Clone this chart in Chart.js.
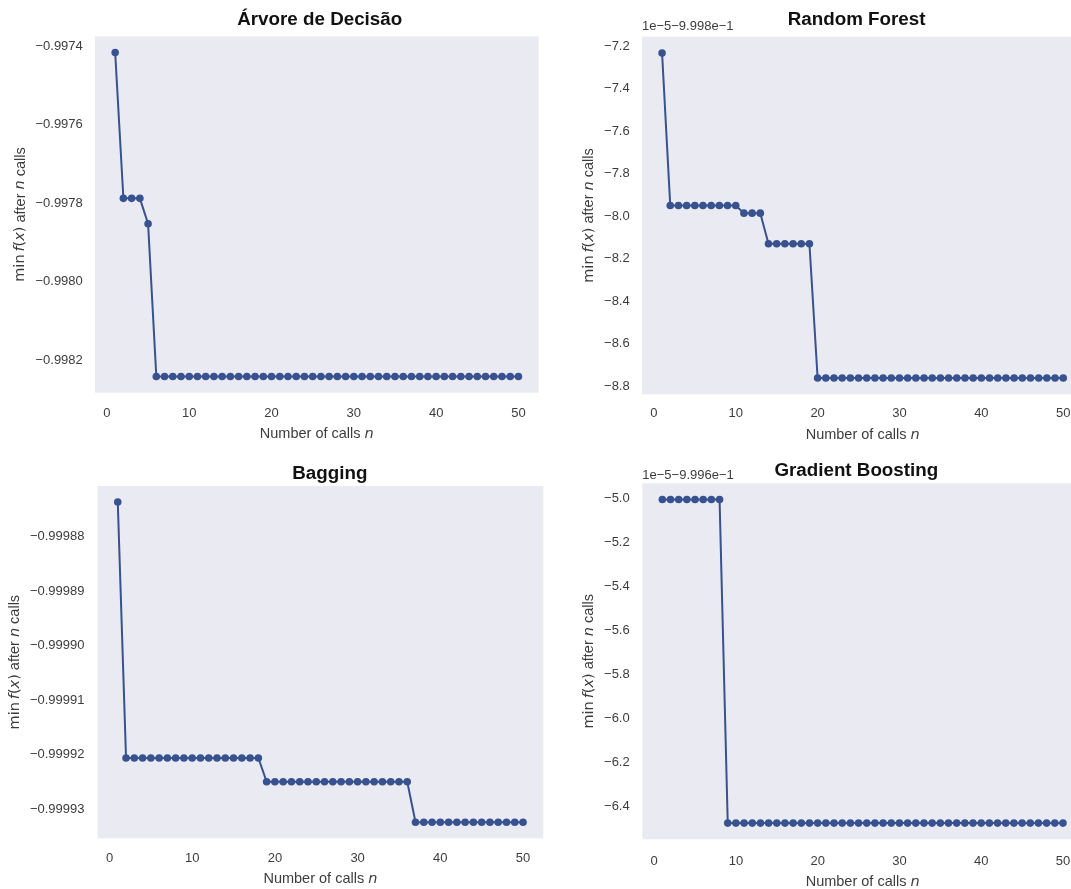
<!DOCTYPE html>
<html>
<head>
<meta charset="utf-8">
<script src="https://cdn.jsdelivr.net/npm/chart.js@4/dist/chart.umd.min.js"></script>
<style>
    html, body { margin: 0; padding: 0; background: #ffffff; overflow: hidden; }
    body { width: 1071px; height: 889px; position: relative; }
    canvas { position: absolute; }
</style>
</head>
<body>
<canvas id="arvore"></canvas>
<canvas id="forest"></canvas>
<canvas id="bagging"></canvas>
<canvas id="boosting"></canvas>
<script>
        const calls = [1, 2, 3, 4, 5, 6, 7, 8, 9, 10,
            11, 12, 13, 14, 15, 16, 17, 18, 19, 20,
            21, 22, 23, 24, 25, 26, 27, 28, 29, 30,
            31, 32, 33, 34, 35, 36, 37, 38, 39, 40,
            41, 42, 43, 44, 45, 46, 47, 48, 49, 50];
        const xTicks = [0, 10, 20, 30, 40, 50];

        // best value found after n calls, per model
        const arvoreMin = [-0.9974152, -0.9977874, -0.9977874, -0.9977874, -0.9978522,
            -0.9982421, -0.9982421, -0.9982421, -0.9982421, -0.9982421,
            -0.9982421, -0.9982421, -0.9982421, -0.9982421, -0.9982421,
            -0.9982421, -0.9982421, -0.9982421, -0.9982421, -0.9982421,
            -0.9982421, -0.9982421, -0.9982421, -0.9982421, -0.9982421,
            -0.9982421, -0.9982421, -0.9982421, -0.9982421, -0.9982421,
            -0.9982421, -0.9982421, -0.9982421, -0.9982421, -0.9982421,
            -0.9982421, -0.9982421, -0.9982421, -0.9982421, -0.9982421,
            -0.9982421, -0.9982421, -0.9982421, -0.9982421, -0.9982421,
            -0.9982421, -0.9982421, -0.9982421, -0.9982421, -0.9982421];
        const arvoreTicks = [-0.9982, -0.9980, -0.9978, -0.9976, -0.9974];

        const forestMin = [-0.99987231, -0.99987949, -0.99987949, -0.99987949, -0.99987949,
            -0.99987949, -0.99987949, -0.99987949, -0.99987949, -0.99987949,
            -0.99987985, -0.99987985, -0.99987985, -0.99988129, -0.99988129,
            -0.99988129, -0.99988129, -0.99988129, -0.99988129, -0.99988761,
            -0.99988761, -0.99988761, -0.99988761, -0.99988761, -0.99988761,
            -0.99988761, -0.99988761, -0.99988761, -0.99988761, -0.99988761,
            -0.99988761, -0.99988761, -0.99988761, -0.99988761, -0.99988761,
            -0.99988761, -0.99988761, -0.99988761, -0.99988761, -0.99988761,
            -0.99988761, -0.99988761, -0.99988761, -0.99988761, -0.99988761,
            -0.99988761, -0.99988761, -0.99988761, -0.99988761, -0.99988761];
        // tick labels in units of 1e-5, shifted by -0.9998
        const forestTicks = [-8.8, -8.6, -8.4, -8.2, -8.0, -7.8, -7.6, -7.4, -7.2];

        const baggingMin = [-0.99987361, -0.99992061, -0.99992061, -0.99992061, -0.99992061,
            -0.99992061, -0.99992061, -0.99992061, -0.99992061, -0.99992061,
            -0.99992061, -0.99992061, -0.99992061, -0.99992061, -0.99992061,
            -0.99992061, -0.99992061, -0.99992061, -0.99992499, -0.99992499,
            -0.99992499, -0.99992499, -0.99992499, -0.99992499, -0.99992499,
            -0.99992499, -0.99992499, -0.99992499, -0.99992499, -0.99992499,
            -0.99992499, -0.99992499, -0.99992499, -0.99992499, -0.99992499,
            -0.99992499, -0.99993243, -0.99993243, -0.99993243, -0.99993243,
            -0.99993243, -0.99993243, -0.99993243, -0.99993243, -0.99993243,
            -0.99993243, -0.99993243, -0.99993243, -0.99993243, -0.99993243];
        const baggingTicks = [-0.99993, -0.99992, -0.99991, -0.99990, -0.99989, -0.99988];

        const boostingMin = [-0.99965005, -0.99965005, -0.99965005, -0.99965005, -0.99965005,
            -0.99965005, -0.99965005, -0.99965005, -0.99966474, -0.99966474,
            -0.99966474, -0.99966474, -0.99966474, -0.99966474, -0.99966474,
            -0.99966474, -0.99966474, -0.99966474, -0.99966474, -0.99966474,
            -0.99966474, -0.99966474, -0.99966474, -0.99966474, -0.99966474,
            -0.99966474, -0.99966474, -0.99966474, -0.99966474, -0.99966474,
            -0.99966474, -0.99966474, -0.99966474, -0.99966474, -0.99966474,
            -0.99966474, -0.99966474, -0.99966474, -0.99966474, -0.99966474,
            -0.99966474, -0.99966474, -0.99966474, -0.99966474, -0.99966474,
            -0.99966474, -0.99966474, -0.99966474, -0.99966474, -0.99966474];
        // tick labels in units of 1e-5, shifted by -0.9996
        const boostingTicks = [-6.4, -6.2, -6.0, -5.8, -5.6, -5.4, -5.2, -5.0];

        // axis labels, split into plain / math / math-italic runs
        const yLabel = [['min', 'math'], ['\u2009', 'math'], ['f', 'it'], ['(', 'math'], ['x', 'it'], [')', 'math'],
            [' after ', 'text'], ['n', 'it'], [' calls', 'text']];
        const xLabel = [['Number of calls ', 'text'], ['n', 'it']];

        const lineColor = '#38528f';
        const panelBg = '#eaeaf2';
        const textColor = '#3d3d3d';
        const fontFamily = "'Liberation Sans', Arial, sans-serif";
        const mathFamily = "'DejaVu Sans', sans-serif";
        const tickFont = { family: fontFamily, size: 13 };
        const labelSize = 14.5;

        // page layout of each subplot (pixels)
        const panels = [
            {
                id: 'arvore', title: 'Árvore de Decisão', values: arvoreMin, ticks: arvoreTicks, decimals: 4,
                canvas: { x: 0, y: 0, w: 545, h: 445 },
                area: { left: 95, right: 538.6, top: 36.3, bottom: 392.7 },
                titlePos: [319.7, 20.3], yTitleX: 20.7, yTickRight: 82.8, xTickY: 413.3, xTitleY: 434
            },
            {
                id: 'forest', title: 'Random Forest', values: forestMin, ticks: forestTicks, decimals: 1,
                offset: -0.9998, unit: 1e-5, offsetText: '1e\u22125\u22129.998e\u22121',
                canvas: { x: 545, y: 0, w: 560, h: 445 },
                area: { left: 642, right: 1083.3, top: 36.7, bottom: 394.3 },
                titlePos: [856.6, 20.3], offsetY: 26.7,
                yTitleX: 589.1, yTickRight: 629.7, xTickY: 413.3, xTitleY: 435
            },
            {
                id: 'bagging', title: 'Bagging', values: baggingMin, ticks: baggingTicks, decimals: 5,
                canvas: { x: 0, y: 445, w: 550, h: 444 },
                area: { left: 97.5, right: 543.3, top: 486, bottom: 838.3 },
                titlePos: [329.8, 474], yTitleX: 14.8, yTickRight: 84.5, xTickY: 858.3, xTitleY: 879
            },
            {
                id: 'boosting', title: 'Gradient Boosting', values: boostingMin, ticks: boostingTicks, decimals: 1,
                offset: -0.9996, unit: 1e-5, offsetText: '1e\u22125\u22129.996e\u22121',
                canvas: { x: 545, y: 445, w: 560, h: 450 },
                area: { left: 642.3, right: 1083, top: 483.3, bottom: 839.3 },
                titlePos: [856.3, 470.7], offsetY: 475,
                yTitleX: 589.1, yTickRight: 629.7, xTickY: 861.7, xTitleY: 882.3
            }
        ];

        // matplotlib-style 5% margins around the data
        function withMargins(values) {
            const lo = Math.min(...values);
            const hi = Math.max(...values);
            const m = (hi - lo) * 0.05;
            return [lo - m, hi + m];
        }

        function fmt(t, decimals) {
            return t.toFixed(decimals).replace('-', '\u2212');
        }

        function runFont(kind) {
            if (kind === 'it') return 'italic ' + labelSize + 'px ' + mathFamily;
            if (kind === 'math') return labelSize + 'px ' + mathFamily;
            return labelSize + 'px ' + fontFamily;
        }

        // centred label made of several font runs, optionally rotated for the y axis
        function drawLabel(ctx, runs, x, y, vertical) {
            ctx.save();
            ctx.translate(x, y);
            if (vertical) ctx.rotate(-Math.PI / 2);
            ctx.fillStyle = textColor;
            ctx.textBaseline = 'middle';
            ctx.textAlign = 'left';
            let total = 0;
            runs.forEach(r => { ctx.font = runFont(r[1]); total += ctx.measureText(r[0]).width; });
            let cx = -total / 2;
            runs.forEach(r => {
                ctx.font = runFont(r[1]);
                ctx.fillText(r[0], cx, 0);
                cx += ctx.measureText(r[0]).width;
            });
            ctx.restore();
        }

        const panelDecor = {
            id: 'panelDecor',
            beforeDraw(chart, args, opts) {
                const a = chart.chartArea;
                const ctx = chart.ctx;
                ctx.save();
                ctx.fillStyle = panelBg;
                ctx.fillRect(a.left, a.top, a.right - a.left, a.bottom - a.top);
                ctx.restore();
            },
            afterDraw(chart, args, opts) {
                const a = chart.chartArea;
                const ctx = chart.ctx;
                ctx.save();
                ctx.fillStyle = '#111111';
                ctx.font = 'bold 18.8px ' + fontFamily;
                ctx.textAlign = 'center';
                ctx.textBaseline = 'middle';
                ctx.fillText(opts.title, opts.titleX, opts.titleY);
                if (opts.offsetText) {
                    ctx.fillStyle = textColor;
                    ctx.font = '13px ' + fontFamily;
                    ctx.textAlign = 'left';
                    ctx.fillText(opts.offsetText, a.left, opts.offsetY);
                }
                ctx.restore();
                drawLabel(ctx, xLabel, (a.left + a.right) / 2, opts.xTitleY, false);
                drawLabel(ctx, yLabel, opts.yTitleX, (a.top + a.bottom) / 2, true);
            }
        };

        function buildPanel(p) {
            const el = document.getElementById(p.id);
            const c = p.canvas;
            el.width = c.w;
            el.height = c.h;
            el.style.left = c.x + 'px';
            el.style.top = c.y + 'px';

            // everything below in canvas coordinates
            const a = {
                left: p.area.left - c.x, right: p.area.right - c.x,
                top: p.area.top - c.y, bottom: p.area.bottom - c.y
            };
            const tickLH = tickFont.size * 1.2;
            const [xMin, xMax] = withMargins(calls);
            const [yMin, yMax] = withMargins(p.values);
            const tickValue = t => p.offset !== undefined ? p.offset + t * p.unit : t;

            new Chart(el, {
                type: 'line',
                data: {
                    datasets: [{
                        data: calls.map((n, i) => ({ x: n, y: p.values[i] })),
                        borderColor: lineColor,
                        backgroundColor: lineColor,
                        borderWidth: 2,
                        pointRadius: 3.8,
                        pointBorderWidth: 0,
                        pointBackgroundColor: lineColor,
                        tension: 0,
                        clip: false
                    }]
                },
                options: {
                    responsive: false,
                    animation: false,
                    devicePixelRatio: 1,
                    layout: { padding: { left: 0, top: a.top, right: c.w - a.right, bottom: 0 } },
                    plugins: {
                        legend: { display: false },
                        tooltip: { enabled: false },
                        panelDecor: {
                            title: p.title,
                            titleX: p.titlePos[0] - c.x,
                            titleY: p.titlePos[1] - c.y,
                            offsetText: p.offsetText,
                            offsetY: p.offsetY - c.y,
                            xTitleY: p.xTitleY - c.y,
                            yTitleX: p.yTitleX - c.x
                        }
                    },
                    scales: {
                        x: {
                            type: 'linear',
                            min: xMin,
                            max: xMax,
                            grid: { display: false, drawTicks: false },
                            border: { display: false },
                            ticks: {
                                font: tickFont, color: textColor,
                                padding: p.xTickY - p.area.bottom - tickLH / 2,
                                maxRotation: 0,
                                callback: v => String(v)
                            },
                            afterBuildTicks: s => { s.ticks = xTicks.map(v => ({ value: v })); },
                            afterFit: s => { s.height = c.h - a.bottom; }
                        },
                        y: {
                            type: 'linear',
                            min: yMin,
                            max: yMax,
                            grid: { display: false, drawTicks: false },
                            border: { display: false },
                            ticks: {
                                font: tickFont, color: textColor,
                                padding: p.area.left - p.yTickRight,
                                autoSkip: false,
                                callback: (v, i) => fmt(p.ticks[i], p.decimals)
                            },
                            afterBuildTicks: s => { s.ticks = p.ticks.map(t => ({ value: tickValue(t) })); },
                            afterFit: s => { s.width = a.left; }
                        }
                    }
                },
                plugins: [panelDecor]
            });
        }

        panels.forEach(buildPanel);
</script>
</body>
</html>
